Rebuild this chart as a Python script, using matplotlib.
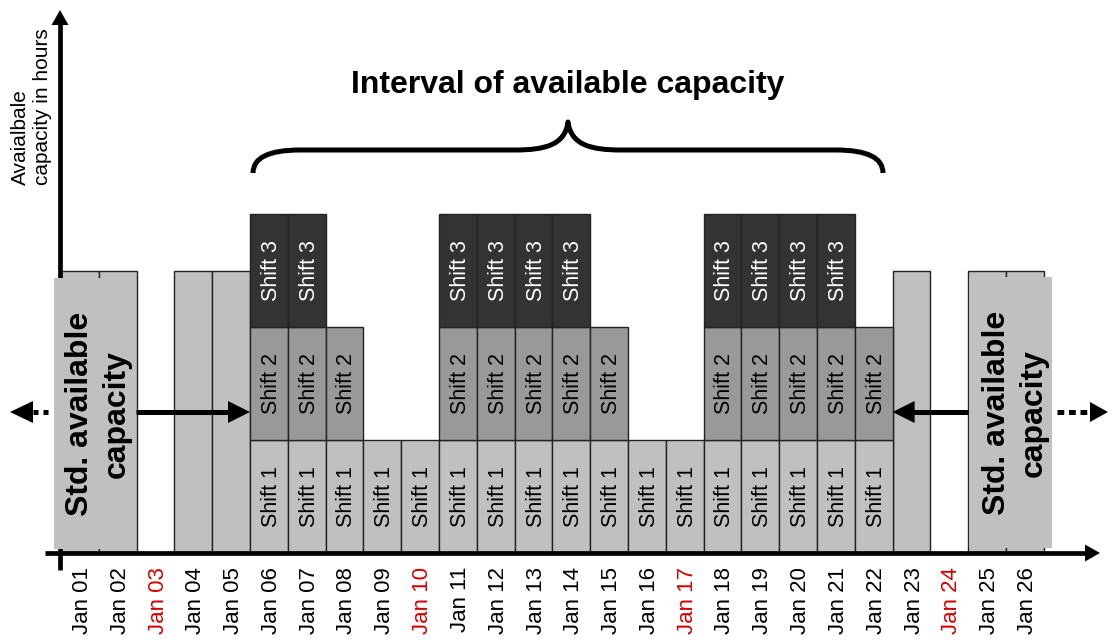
import matplotlib
matplotlib.use("Agg")
import matplotlib.pyplot as plt
from matplotlib.patches import Rectangle, PathPatch
from matplotlib.path import Path

# ---------------- data ----------------
day_labels = ["Jan 01", "Jan 02", "Jan 03", "Jan 04", "Jan 05", "Jan 06", "Jan 07",
              "Jan 08", "Jan 09", "Jan 10", "Jan 11", "Jan 12", "Jan 13", "Jan 14",
              "Jan 15", "Jan 16", "Jan 17", "Jan 18", "Jan 19", "Jan 20", "Jan 21",
              "Jan 22", "Jan 23", "Jan 24", "Jan 25", "Jan 26"]
holidays = ["Jan 03", "Jan 10", "Jan 17", "Jan 24"]

std_days = ["Jan 01", "Jan 02", "Jan 04", "Jan 05", "Jan 23", "Jan 25", "Jan 26"]
std_capacity = [2.5, 2.5, 2.5, 2.5, 2.5, 2.5, 2.5]

shift_days = ["Jan 06", "Jan 07", "Jan 08", "Jan 09", "Jan 10", "Jan 11", "Jan 12",
              "Jan 13", "Jan 14", "Jan 15", "Jan 16", "Jan 17", "Jan 18", "Jan 19",
              "Jan 20", "Jan 21", "Jan 22"]
shift1 = [1, 1, 1, 1, 1, 1, 1, 1, 1, 1, 1, 1, 1, 1, 1, 1, 1]
shift2 = [1, 1, 1, 0, 0, 1, 1, 1, 1, 1, 0, 0, 1, 1, 1, 1, 1]
shift3 = [1, 1, 0, 0, 0, 1, 1, 1, 1, 0, 0, 0, 1, 1, 1, 1, 0]
shift_names = ["Shift 1", "Shift 2", "Shift 3"]

title = "Interval of available capacity"
ylabel = "Avaialbale\ncapacity in hours"
std_label = "Std. available\ncapacity"

# ---------------- style ----------------
plt.rcParams["font.family"] = ["Liberation Sans", "DejaVu Sans"]
c_std = "#c0c0c0"
shift_colors = ["#c0c0c0", "#999999", "#333333"]
shift_text = ["black", "black", "white"]
edge = "#222222"

W, H = 1109, 640
fig = plt.figure(figsize=(W / 100, H / 100), dpi=100)
base_px = 553
unit_px = 113.0
slot_px = 37.8
ax = fig.add_axes([0, (H - base_px) / H, 1, base_px / H])
x0 = 0.5 - 61 / slot_px
ax.set_xlim(x0, x0 + W / slot_px)
ax.set_ylim(0, base_px / unit_px)
for s in ax.spines.values():
    s.set_visible(False)
ax.set_yticks([])

px = 1 / slot_px   # data units per pixel (x)
py = 1 / unit_px   # data units per pixel (y)
txt_dx = 2.5 * px  # optical centring of rotated text

pos = {lab: i + 1 for i, lab in enumerate(day_labels)}

# std bars
ax.bar([pos[d] for d in std_days], std_capacity, width=1, color=c_std,
       edgecolor=edge, linewidth=1, zorder=2)

# shift bars
bottoms = [0] * len(shift_days)
for k, vals in enumerate([shift1, shift2, shift3]):
    xs = [pos[d] for d, v in zip(shift_days, vals) if v > 0]
    hs = [v for v in vals if v > 0]
    bs = [b for b, v in zip(bottoms, vals) if v > 0]
    ax.bar(xs, hs, bottom=bs, width=1, color=shift_colors[k], edgecolor=edge,
           linewidth=1, zorder=2)
    for x, h, b in zip(xs, hs, bs):
        ax.text(x + txt_dx, b + h / 2, shift_names[k], rotation=90, ha="center",
                va="center", fontsize=15.5, color=shift_text[k], zorder=3)
    bottoms = [b + v for b, v in zip(bottoms, vals)]

# x tick labels
ax.set_xticks([pos[d] + txt_dx for d in day_labels])
ax.set_xticklabels(day_labels, rotation=90, fontsize=16)
ax.tick_params(axis="x", length=0, pad=10)
for t in ax.get_xticklabels():
    if t.get_text() in holidays:
        t.set_color("#d40000")


def head(tip, direction, length, halfw, z=6):
    """filled triangular arrow head; direction in ('l','r','u')"""
    tx, ty = tip
    if direction == "r":
        pts = [(tx, ty), (tx - length, ty + halfw), (tx - length, ty - halfw)]
    elif direction == "l":
        pts = [(tx, ty), (tx + length, ty + halfw), (tx + length, ty - halfw)]
    else:
        pts = [(tx, ty), (tx - halfw, ty - length), (tx + halfw, ty - length)]
    ax.fill([p[0] for p in pts], [p[1] for p in pts], color="black", lw=0,
            zorder=z, clip_on=False)


lw_axis = 3.4

# x axis
x_tip = x0 + 1100 * px
ax.plot([x0 + 45 * px, x_tip - 14 * px], [0, 0], color="black", lw=lw_axis,
        solid_capstyle="butt", zorder=3, clip_on=False)
head((x_tip, 0), "r", 15 * px, 8.5 * py, z=3)
# y axis
y_ax = x0 + 60 * px
y_tip = (base_px - 10) * py
ax.plot([y_ax, y_ax], [-17 * py, y_tip - 14 * py], color="black", lw=lw_axis,
        solid_capstyle="butt", zorder=3, clip_on=False)
head((y_ax, y_tip), "u", 15 * py, 8.5 * px, z=3)

# std boxes
left_box = Rectangle((x0 + 54 * px, 4 * py), 82 * px, 271 * py, facecolor=c_std,
                     edgecolor="none", zorder=4)
right_box = Rectangle((x0 + 969 * px, 5 * py), 83 * px, 271 * py, facecolor=c_std,
                      edgecolor="none", zorder=4)
ax.add_patch(left_box)
ax.add_patch(right_box)
ax.text(x0 + 98 * px, (base_px - 414) * py, std_label, rotation=90, ha="center",
        va="center", fontsize=23, fontweight="bold", linespacing=1.3,
        multialignment="center", zorder=6)
ax.text(x0 + 1015 * px, (base_px - 413) * py, std_label, rotation=90, ha="center",
        va="center", fontsize=23, fontweight="bold", linespacing=1.3,
        multialignment="center", zorder=6)

# solid arrows
ya = (base_px - 412) * py
ax.plot([x0 + 136 * px, 5.5 - 20 * px], [ya, ya], color="black", lw=3.6,
        solid_capstyle="butt", zorder=5)
head((5.5, ya), "r", 22 * px, 11 * py)
ax.plot([24.5, 22.5 + 20 * px], [ya, ya], color="black", lw=3.6,
        solid_capstyle="butt", zorder=5)
head((22.5, ya), "l", 22 * px, 11 * py)

# dotted arrows
ax.plot([x0 + 48 * px, x0 + 33 * px], [ya, ya], color="black", lw=3.6,
        linestyle=(0, (1.0, 1.0)), dash_capstyle="butt", zorder=5)
head((x0 + 10 * px, ya), "l", 23 * px, 11 * py)
ax.plot([x0 + 1057 * px, x0 + 1090 * px], [ya, ya], color="black", lw=3.6,
        linestyle=(0, (1.35, 0.95)), dash_capstyle="butt", zorder=5)
head((x0 + 1108 * px, ya), "r", 18 * px, 10 * py)

# brace
bl, br = x0 + 253 * px, x0 + 883 * px
bm = (bl + br) / 2
yb_end = (base_px - 173) * py
yb_mid = (base_px - 150) * py
yb_tip = (base_px - 122) * py
verts = [
    (bl, yb_end), (bl, yb_mid), (bl + 47 * px, yb_mid),
    (bm - 53 * px, yb_mid),
    (bm - 23 * px, yb_mid), (bm - 3 * px, (base_px - 145) * py), (bm, yb_tip),
    (bm + 3 * px, (base_px - 145) * py), (bm + 23 * px, yb_mid), (bm + 53 * px, yb_mid),
    (br - 47 * px, yb_mid),
    (br, yb_mid), (br, yb_end),
]
codes = [Path.MOVETO, Path.CURVE3, Path.CURVE3,
         Path.LINETO,
         Path.CURVE4, Path.CURVE4, Path.CURVE4,
         Path.CURVE4, Path.CURVE4, Path.CURVE4,
         Path.LINETO,
         Path.CURVE3, Path.CURVE3]
ax.add_patch(PathPatch(Path(verts, codes), facecolor="none", edgecolor="black",
                       lw=3.6, capstyle="butt", joinstyle="round", zorder=5))

# title
ax.text(bm, (base_px - 85) * py, title, ha="center", va="center", fontsize=23,
        fontweight="bold", zorder=6)

# y label
ax.text(x0 + 31.5 * px, (base_px - 185) * py, ylabel, rotation=90, ha="center",
        va="bottom", fontsize=15, multialignment="left", linespacing=1.15, zorder=6)

fig.savefig("out.png", dpi=100)
